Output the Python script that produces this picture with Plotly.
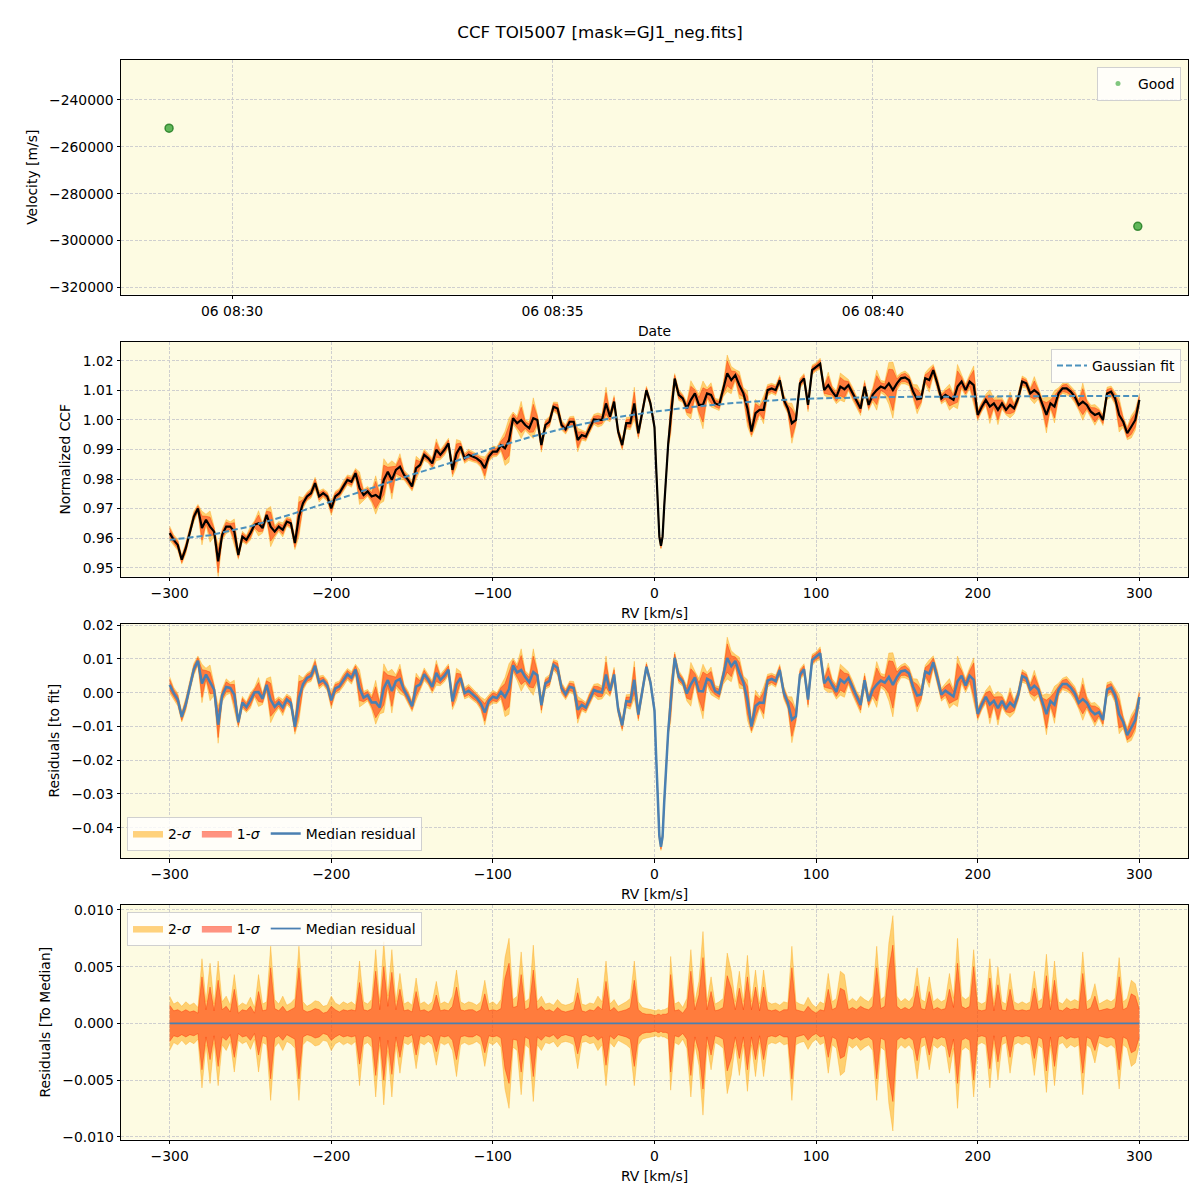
import numpy as np
import plotly.graph_objects as go

# ---------------- data ----------------
obs_time = ["2024-01-06 08:29:01", "2024-01-06 08:44:08"]
obs_vel = [-252090, -293940]

# RV grid (km/s)
rv = np.concatenate([np.arange(-300, 0.01, 2.5),
                     [1, 2, 3, 4, 5, 6, 7, 8.5],
                     np.arange(10, 300.01, 2.5)])

ccf = [
    0.9617, 0.9594, 0.9577, 0.9527, 0.9566, 0.9622, 0.9673, 0.9700, 0.9634, 0.9662,
    0.9639, 0.9622, 0.9521, 0.9611, 0.9639, 0.9639, 0.9622, 0.9543, 0.9605, 0.9594,
    0.9617, 0.9645, 0.9650, 0.9634, 0.9679, 0.9639, 0.9622, 0.9639, 0.9628, 0.9656,
    0.9650, 0.9583, 0.9673, 0.9718, 0.9741, 0.9752, 0.9786, 0.9741, 0.9752, 0.9741,
    0.9701, 0.9741, 0.9752, 0.9775, 0.9797, 0.9791, 0.9820, 0.9769, 0.9746, 0.9758,
    0.9741, 0.9746, 0.9735, 0.9797, 0.9825, 0.9797, 0.9831, 0.9842, 0.9814, 0.9797,
    0.9775, 0.9837, 0.9848, 0.9882, 0.9870, 0.9853, 0.9899, 0.9882, 0.9899, 0.9921,
    0.9831, 0.9887, 0.9910, 0.9870, 0.9882, 0.9876, 0.9870,
    0.9859, 0.9837, 0.9876, 0.9893, 0.9893, 0.9915, 0.9904, 0.9932, 1.0006, 0.9989,
    1.0000, 0.9983, 0.9972, 1.0006, 1.0000, 0.9915, 0.9983, 0.9994, 1.0045, 1.0039,
    0.9983, 0.9968, 0.9994, 0.9994, 0.9932, 0.9949, 0.9944, 0.9975, 1.0002, 1.0000,
    1.0000, 1.0056, 1.0011, 1.0062, 0.9961, 0.9915, 0.9989, 0.9989, 1.0056, 0.9955,
    1.0028, 1.0101, 1.0056, 0.9975,
    0.9842, 0.9707, 0.9605, 0.9574, 0.9605, 0.9707, 0.9808, 0.9921,
    1.0006, 1.0140, 1.0085, 1.0073, 1.0039, 1.0068, 1.0090, 1.0051, 1.0051, 1.0090,
    1.0085, 1.0056, 1.0051, 1.0101, 1.0158, 1.0135, 1.0152, 1.0118, 1.0090, 1.0039,
    0.9961, 1.0023, 1.0034, 1.0034, 1.0101, 1.0107, 1.0101, 1.0135, 1.0068, 1.0039,
    0.9989, 1.0000, 1.0124, 1.0141, 1.0051, 1.0169, 1.0180,
    1.0190, 1.0101, 1.0118, 1.0096, 1.0077, 1.0113, 1.0104, 1.0118, 1.0090, 1.0062,
    1.0039, 1.0113, 1.0051, 1.0085, 1.0101, 1.0113, 1.0107, 1.0124, 1.0101, 1.0124,
    1.0141, 1.0144, 1.0135, 1.0096, 1.0070, 1.0073, 1.0141, 1.0135, 1.0169, 1.0124,
    1.0073, 1.0085, 1.0077, 1.0068, 1.0113, 1.0130, 1.0101, 1.0130, 1.0118, 1.0017,
    1.0045, 1.0068, 1.0045, 1.0056, 1.0034, 1.0056, 1.0034, 1.0051, 1.0039, 1.0073,
    1.0130, 1.0124, 1.0090, 1.0101, 1.0090, 1.0051, 1.0017, 1.0056, 1.0045, 1.0090,
    1.0107, 1.0107, 1.0096, 1.0079, 1.0051, 1.0062, 1.0051, 1.0028, 1.0017, 1.0023,
    1.0000, 1.0090, 1.0096, 1.0073, 1.0017, 0.9994, 0.9955, 0.9977, 1.0000, 1.0068,
]

# 2-sigma and 1-sigma half widths, in units of 1e-4
sig2_e4 = [
    24, 17, 19, 15, 19, 16, 18, 14, 57, 19, 53, 17, 55, 19, 24, 16, 43, 15, 18, 16,
    23, 14, 43, 17, 19, 68, 21, 17, 24, 16, 18, 22, 68, 19, 15, 17, 20, 19, 15, 16,
    24, 18, 16, 19, 17, 19, 16, 55, 19, 17, 21, 65, 19, 72, 24, 65, 19, 44, 17, 19,
    16, 40, 17, 19, 16, 19, 37, 17, 19, 17, 24, 47, 19, 17, 19, 18, 16,
    19, 38, 17, 19, 16, 21, 58, 75, 21, 24, 63, 19, 22, 69, 19, 24, 17, 18, 16, 21,
    17, 16, 17, 19, 40, 17, 16, 18, 17, 24, 19, 55, 17, 21, 15, 17, 19, 22, 55, 19,
    14, 13, 12, 11,
    11, 12, 12, 11, 12, 12, 13, 14,
    59, 17, 19, 14, 22, 65, 19, 37, 81, 19, 41, 17, 19, 22, 62, 46, 19, 46, 19, 60,
    19, 47, 17, 47, 19, 17, 18, 16, 19, 18, 68, 19, 17, 16, 23, 17, 14,
    19, 17, 44, 19, 22, 46, 43, 19, 22, 19, 24, 21, 19, 24, 68, 21, 24, 71, 95, 24,
    19, 22, 19, 24, 49, 21, 19, 41, 19, 22, 19, 21, 44, 22, 75, 24, 21, 24, 65, 19,
    17, 19, 57, 17, 50, 19, 17, 44, 19, 17, 19, 17, 19, 46, 19, 22, 61, 19, 55, 19,
    17, 22, 19, 21, 19, 63, 19, 22, 35, 17, 19, 21, 19, 22, 58, 19, 22, 38, 35, 19,
]
sig1_e4 = [
    16, 11, 12, 10, 12, 10, 11, 9, 41, 12, 32, 11, 38, 12, 15, 10, 30, 9, 12, 11,
    15, 9, 28, 11, 12, 49, 13, 11, 15, 10, 12, 14, 49, 12, 10, 11, 13, 12, 9, 10,
    15, 12, 10, 12, 11, 12, 11, 36, 12, 11, 13, 46, 12, 50, 15, 45, 12, 30, 11, 12,
    10, 28, 11, 12, 10, 12, 25, 11, 12, 11, 15, 32, 12, 11, 12, 12, 10,
    12, 26, 11, 12, 11, 13, 40, 53, 14, 15, 43, 12, 14, 47, 12, 15, 11, 12, 10, 14,
    11, 10, 11, 12, 27, 11, 10, 12, 11, 15, 12, 37, 11, 14, 10, 11, 12, 14, 38, 12,
    9, 8, 8, 7,
    7, 8, 8, 7, 8, 8, 8, 9,
    43, 11, 12, 9, 14, 46, 12, 25, 58, 12, 28, 11, 12, 14, 42, 31, 12, 31, 12, 41,
    12, 32, 11, 32, 12, 11, 12, 10, 12, 12, 49, 12, 11, 10, 15, 11, 9,
    12, 11, 30, 12, 14, 31, 29, 12, 14, 12, 15, 13, 12, 15, 49, 13, 15, 48, 69, 15,
    12, 14, 12, 15, 33, 13, 12, 28, 12, 14, 12, 13, 30, 14, 53, 15, 13, 15, 50, 12,
    11, 12, 40, 11, 34, 12, 11, 30, 12, 11, 12, 11, 12, 31, 12, 14, 42, 12, 38, 12,
    11, 14, 12, 13, 12, 44, 12, 14, 24, 11, 12, 13, 12, 14, 41, 12, 14, 26, 24, 12,
]

# Gaussian fit curve
fit_rv = [-300, -275, -250, -225, -200, -175, -150, -125, -100, -75, -50, -25,
          0, 25, 50, 75, 100, 150, 200, 250, 300]
fit_val = [0.9594, 0.9610, 0.9640, 0.9680, 0.9724, 0.9770, 0.9815, 0.9857, 0.9905,
           0.9945, 0.9980, 1.0008, 1.0028, 1.0045, 1.0058, 1.0067, 1.0073, 1.0078,
           1.0080, 1.0081, 1.0081]

rv_ticks = [-300, -200, -100, 0, 100, 200, 300]
rv_ticktext = ["\u2212300", "\u2212200", "\u2212100", "0", "100", "200", "300"]
vel_ticks = [-240000, -260000, -280000, -300000, -320000]
vel_ticktext = ["\u2212240000", "\u2212260000", "\u2212280000", "\u2212300000", "\u2212320000"]
date_ticks = ["2024-01-06 08:30", "2024-01-06 08:35", "2024-01-06 08:40"]
date_ticktext = ["06 08:30", "06 08:35", "06 08:40"]
ccf_ticks = [0.95, 0.96, 0.97, 0.98, 0.99, 1.00, 1.01, 1.02]
ccf_ticktext = ["0.95", "0.96", "0.97", "0.98", "0.99", "1.00", "1.01", "1.02"]
res_ticks = [0.02, 0.01, 0.0, -0.01, -0.02, -0.03, -0.04]
res_ticktext = ["0.02", "0.01", "0.00", "\u22120.01", "\u22120.02", "\u22120.03", "\u22120.04"]
med_ticks = [0.010, 0.005, 0.0, -0.005, -0.010]
med_ticktext = ["0.010", "0.005", "0.000", "\u22120.005", "\u22120.010"]

# ---------------- derived ----------------
ccf_a = np.array(ccf)
s2 = np.array(sig2_e4) * 1e-4
s1 = np.array(sig1_e4) * 1e-4
fit_on_rv = np.interp(rv, fit_rv, fit_val)
resid = ccf_a - fit_on_rv
zero = np.zeros_like(rv)

ORANGE = "rgba(255,165,0,0.5)"
ORANGE_EDGE = "rgba(255,160,0,0.55)"
RED = "rgba(255,40,10,0.5)"
RED_EDGE = "rgba(255,50,0,0.6)"
BLUE = "#4a80b2"
FONT = "DejaVu Sans"
FS = 13.9

fig = go.Figure()


def bands(center, xa, ya, leg, show):
    fig.add_trace(go.Scatter(x=rv, y=center + s2, mode="lines",
                             line=dict(width=0.6, color=ORANGE_EDGE),
                             showlegend=False, hoverinfo="skip", xaxis=xa, yaxis=ya))
    fig.add_trace(go.Scatter(x=rv, y=center - s2, mode="lines",
                             line=dict(width=0.6, color=ORANGE_EDGE),
                             fill="tonexty", fillcolor=ORANGE, name="2-<i>\u03c3</i>",
                             showlegend=show, legend=leg, hoverinfo="skip", xaxis=xa, yaxis=ya))
    fig.add_trace(go.Scatter(x=rv, y=center + s1, mode="lines",
                             line=dict(width=0.7, color=RED_EDGE),
                             showlegend=False, hoverinfo="skip", xaxis=xa, yaxis=ya))
    fig.add_trace(go.Scatter(x=rv, y=center - s1, mode="lines",
                             line=dict(width=0.7, color=RED_EDGE),
                             fill="tonexty", fillcolor=RED, name="1-<i>\u03c3</i>",
                             showlegend=show, legend=leg, hoverinfo="skip", xaxis=xa, yaxis=ya))


# Panel 1
fig.add_trace(go.Scatter(x=obs_time, y=obs_vel, mode="markers", name="Good",
                         marker=dict(size=8, color="rgba(44,160,44,0.75)",
                                     line=dict(width=1.5, color="rgba(30,120,30,0.8)")),
                         showlegend=False, xaxis="x", yaxis="y"))
# legend key (small dot, as in the reference legend)
fig.add_trace(go.Scatter(x=[None], y=[None], mode="markers", name="Good",
                         marker=dict(size=5, color="rgba(44,160,44,0.6)"),
                         xaxis="x", yaxis="y", legend="legend"))

# Panel 2
bands(ccf_a, "x2", "y2", "legend2", False)
fig.add_trace(go.Scatter(x=rv, y=ccf_a, mode="lines", line=dict(color="black", width=2.2),
                         showlegend=False, xaxis="x2", yaxis="y2"))
fig.add_trace(go.Scatter(x=fit_rv, y=fit_val, mode="lines", name="Gaussian fit",
                         line=dict(color="#4b91bd", width=2, dash="6px,3px"),
                         xaxis="x2", yaxis="y2", legend="legend2"))

# Panel 3
bands(resid, "x3", "y3", "legend3", True)
fig.add_trace(go.Scatter(x=rv, y=resid, mode="lines", name="Median residual",
                         line=dict(color=BLUE, width=2.5), xaxis="x3", yaxis="y3",
                         legend="legend3"))

# Panel 4
bands(zero, "x4", "y4", "legend4", True)
fig.add_trace(go.Scatter(x=rv, y=zero, mode="lines", name="Median residual",
                         line=dict(color=BLUE, width=1.8), xaxis="x4", yaxis="y4",
                         legend="legend4"))


def axis(**kw):
    d = dict(showline=True, mirror=True, linecolor="black", linewidth=1,
             ticks="outside", ticklen=3.5, tickwidth=0.8, tickcolor="black",
             showgrid=True, gridcolor="#cfcfcf", griddash="3px,1.6px", gridwidth=0.8,
             zeroline=False, automargin=False,
             tickfont=dict(size=FS, color="black", family=FONT),
             title_font=dict(size=FS, color="black", family=FONT))
    d.update(kw)
    return d


XD = [121 / 1200, 1188 / 1200]
doms = [[1 - 294.5 / 1200, 1 - 60 / 1200],
        [1 - 576.5 / 1200, 1 - 342 / 1200],
        [1 - 858 / 1200, 1 - 623.5 / 1200],
        [1 - 1139.5 / 1200, 1 - 905 / 1200]]

leg_common = dict(bgcolor="rgba(255,255,255,0.8)", bordercolor="#d0d0d0", borderwidth=1,
                  traceorder="normal", font=dict(size=FS, color="black", family=FONT))

XS = 8
YS = 8

fig.update_layout(
    width=1200, height=1200,
    margin=dict(l=0, r=0, t=0, b=0),
    paper_bgcolor="white", plot_bgcolor="#fdfbe2",
    font=dict(family=FONT, color="black", size=FS),
    title=dict(text="CCF TOI5007 [mask=GJ1_neg.fits]", x=0.5, y=1 - 32 / 1200,
               xanchor="center", yanchor="middle", font=dict(size=16.7, family=FONT)),
    xaxis=axis(domain=XD, anchor="y", type="date",
               range=["2024-01-06 08:28:16", "2024-01-06 08:44:55"],
               tickvals=date_ticks, ticktext=date_ticktext,
               title=dict(text="Date", standoff=XS)),
    yaxis=axis(domain=doms[0], anchor="x", range=[-323015, -223015],
               tickvals=vel_ticks, ticktext=vel_ticktext,
               title=dict(text="Velocity [m/s]", standoff=YS)),
    xaxis2=axis(domain=XD, anchor="y2", range=[-330.1, 330.1],
                tickvals=rv_ticks, ticktext=rv_ticktext,
                title=dict(text="RV [km/s]", standoff=XS)),
    yaxis2=axis(domain=doms[1], anchor="x2", range=[0.9470, 1.0264],
                tickvals=ccf_ticks, ticktext=ccf_ticktext,
                title=dict(text="Normalized CCF", standoff=YS)),
    xaxis3=axis(domain=XD, anchor="y3", range=[-330.1, 330.1],
                tickvals=rv_ticks, ticktext=rv_ticktext,
                title=dict(text="RV [km/s]", standoff=XS)),
    yaxis3=axis(domain=doms[2], anchor="x3", range=[-0.0490, 0.0205],
                tickvals=res_ticks, ticktext=res_ticktext,
                title=dict(text="Residuals [to fit]", standoff=YS)),
    xaxis4=axis(domain=XD, anchor="y4", range=[-330.1, 330.1],
                tickvals=rv_ticks, ticktext=rv_ticktext,
                title=dict(text="RV [km/s]", standoff=XS)),
    yaxis4=axis(domain=doms[3], anchor="x4", range=[-0.01025, 0.01044],
                tickvals=med_ticks, ticktext=med_ticktext,
                title=dict(text="Residuals [To Median]", standoff=YS)),
    legend=dict(x=1181 / 1200, y=1 - 67 / 1200, xanchor="right", yanchor="top", **leg_common),
    legend2=dict(x=1181 / 1200, y=1 - 349 / 1200, xanchor="right", yanchor="top", **leg_common),
    legend3=dict(x=127 / 1200, y=1 - 851 / 1200, xanchor="left", yanchor="bottom",
                 orientation="h", **leg_common),
    legend4=dict(x=127 / 1200, y=1 - 912 / 1200, xanchor="left", yanchor="top",
                 orientation="h", **leg_common),
)

fig.write_html("out.html")
